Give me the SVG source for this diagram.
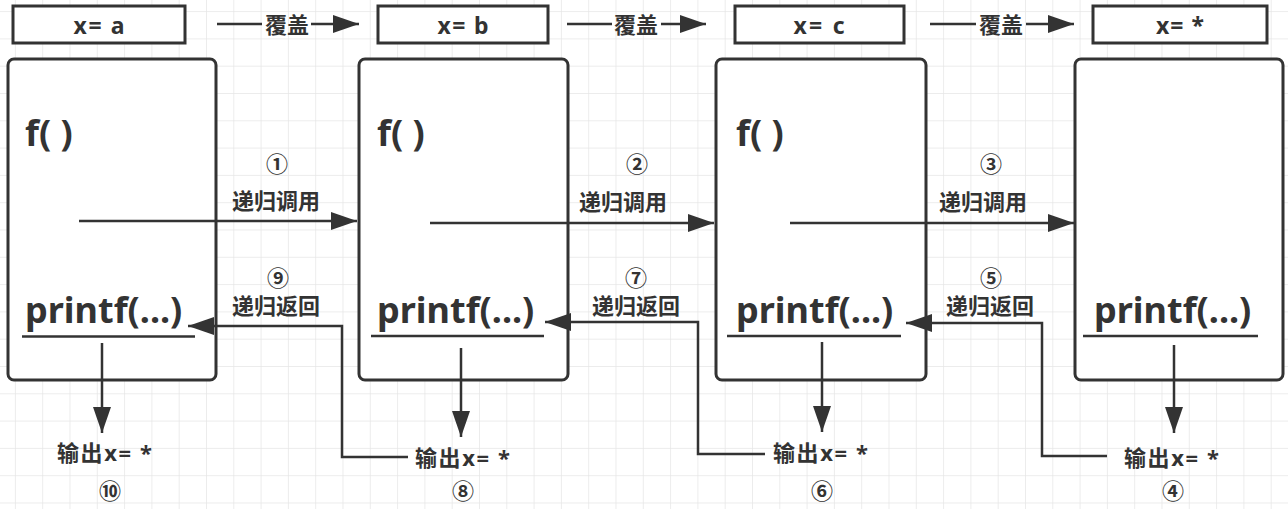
<svg xmlns="http://www.w3.org/2000/svg" width="1288" height="509" viewBox="0 0 1288 509">
<defs>
<pattern id="grid" x="14.9" y="11.1" width="27.3" height="27.3" patternUnits="userSpaceOnUse">
<path d="M0,0 L27.3,0 M0,0 L0,27.3" fill="none" stroke="#e6e6e6" stroke-width="1.5"/>
</pattern>
<marker id="ah" markerUnits="userSpaceOnUse" markerWidth="28" markerHeight="20" refX="26" refY="9" orient="auto">
<path d="M0,0 L26,9 L0,18 Z" fill="#333"/>
</marker>
<style>
.box{fill:#fff;stroke:#333;stroke-width:3}
.ln{fill:none;stroke:#333;stroke-width:2.5}
.t{font-family:"Noto Sans","Noto Sans CJK SC",sans-serif;font-weight:bold;fill:#333}
.big{font-size:36px}
.var{font-size:23px;text-anchor:middle}
.lab{font-size:22px;text-anchor:middle}
.num{font-size:22px;text-anchor:middle;dominant-baseline:central}
.out{font-size:22px}
</style>
</defs>
<rect x="0" y="0" width="1288" height="509" fill="#fff"/>
<rect x="0" y="0" width="1288" height="509" fill="url(#grid)"/>

<g id="var-a"><rect class="box" x="13" y="6" width="172" height="37"/><text class="t var" x="99" y="34" textLength="51" lengthAdjust="spacing">x= a</text></g>
<g id="var-b"><rect class="box" x="378" y="6" width="170" height="37"/><text class="t var" x="463" y="34" textLength="51" lengthAdjust="spacing">x= b</text></g>
<g id="var-c"><rect class="box" x="735" y="6" width="169" height="37"/><text class="t var" x="819" y="34" textLength="51" lengthAdjust="spacing">x= c</text></g>
<g id="var-star"><rect class="box" x="1093" y="6" width="174" height="37"/><text class="t var" x="1180" y="34" textLength="48" lengthAdjust="spacing">x= *</text></g>

<g id="frame1"><rect class="box" x="8" y="59" width="208" height="321" rx="6"/><text class="t big" x="25" y="146">f( )</text><text class="t big" x="25" y="323">printf(...)</text><line class="ln" x1="22" y1="336.5" x2="195" y2="336.5" stroke-width="3"/></g>
<g id="frame2"><rect class="box" x="359" y="59" width="209" height="321" rx="6"/><text class="t big" x="377" y="146">f( )</text><text class="t big" x="377" y="323">printf(...)</text><line class="ln" x1="371" y1="336" x2="544" y2="336" stroke-width="3"/></g>
<g id="frame3"><rect class="box" x="716" y="59" width="210" height="321" rx="6"/><text class="t big" x="736" y="146">f( )</text><text class="t big" x="736" y="323">printf(...)</text><line class="ln" x1="727" y1="336" x2="901" y2="336" stroke-width="3"/></g>
<g id="frame4"><rect class="box" x="1075" y="59" width="208" height="321" rx="6"/><text class="t big" x="1094" y="323">printf(...)</text><line class="ln" x1="1083" y1="336" x2="1258" y2="336" stroke-width="3"/></g>

<g id="out1"><text class="t out" x="57" y="461" textLength="95" lengthAdjust="spacing">输出x= *</text><text class="t num" x="110" y="490">⑩</text></g>
<g id="out2"><text class="t out" x="415" y="466" textLength="95" lengthAdjust="spacing">输出x= *</text><text class="t num" x="463" y="490">⑧</text></g>
<g id="out3"><text class="t out" x="773" y="461" textLength="95" lengthAdjust="spacing">输出x= *</text><text class="t num" x="822" y="490">⑥</text></g>
<g id="out4"><text class="t out" x="1124" y="466" textLength="95" lengthAdjust="spacing">输出x= *</text><text class="t num" x="1173" y="490">④</text></g>

<g id="connectors">
<line class="ln" x1="217" y1="24" x2="262" y2="24"/><line class="ln" x1="311" y1="24" x2="359" y2="24" marker-end="url(#ah)"/>
<text class="t lab" x="287" y="33">覆盖</text>
<line class="ln" x1="567" y1="24" x2="612" y2="24"/><line class="ln" x1="661" y1="24" x2="706" y2="24" marker-end="url(#ah)"/>
<text class="t lab" x="636" y="33">覆盖</text>
<line class="ln" x1="930" y1="24" x2="976" y2="24"/><line class="ln" x1="1026" y1="24" x2="1074" y2="24" marker-end="url(#ah)"/>
<text class="t lab" x="1001" y="33">覆盖</text>

<line class="ln" x1="79" y1="221" x2="357" y2="221" marker-end="url(#ah)"/>
<text class="t num" x="277" y="163">①</text><text class="t lab" x="276" y="209">递归调用</text>
<line class="ln" x1="430" y1="223" x2="714" y2="223" marker-end="url(#ah)"/>
<text class="t num" x="637" y="163">②</text><text class="t lab" x="623" y="210">递归调用</text>
<line class="ln" x1="790" y1="223" x2="1074" y2="223" marker-end="url(#ah)"/>
<text class="t num" x="991" y="163">③</text><text class="t lab" x="983" y="210">递归调用</text>

<polyline class="ln" points="1107,456 1042,456 1042,323 906,323" marker-end="url(#ah)"/>
<text class="t num" x="991" y="277">⑤</text><text class="t lab" x="990" y="314">递归返回</text>
<polyline class="ln" points="765,454 698,454 698,322 545,322" marker-end="url(#ah)"/>
<text class="t num" x="636" y="277">⑦</text><text class="t lab" x="636" y="314">递归返回</text>
<polyline class="ln" points="408,457 342,457 342,326 188,326" marker-end="url(#ah)"/>
<text class="t num" x="278" y="277">⑨</text><text class="t lab" x="276" y="314">递归返回</text>

<line class="ln" x1="102" y1="343" x2="102" y2="433" marker-end="url(#ah)"/>
<line class="ln" x1="461" y1="348" x2="461" y2="437" marker-end="url(#ah)"/>
<line class="ln" x1="822" y1="342" x2="822" y2="432" marker-end="url(#ah)"/>
<line class="ln" x1="1174" y1="345" x2="1174" y2="433" marker-end="url(#ah)"/>
</g>
</svg>
